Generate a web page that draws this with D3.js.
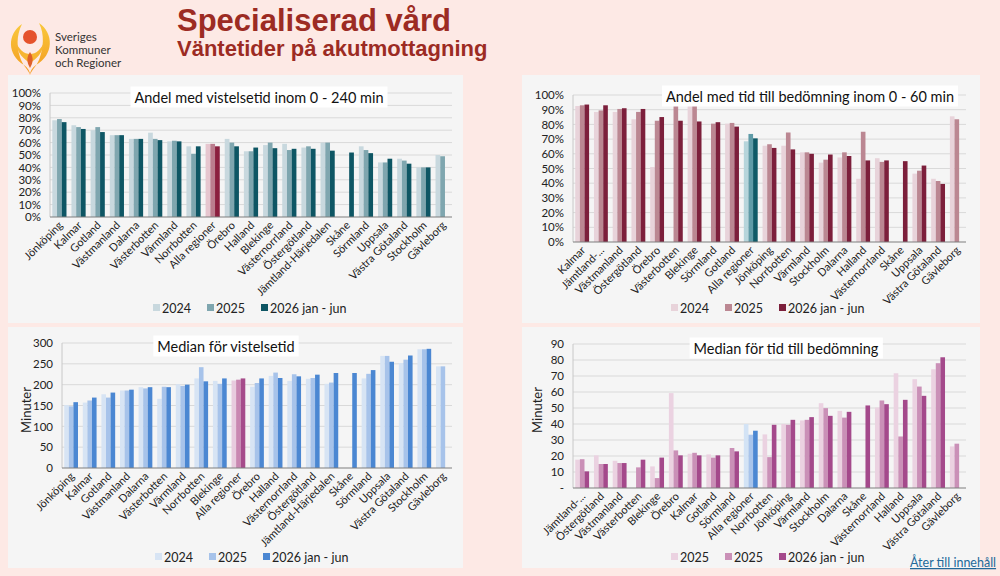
<!DOCTYPE html>
<html>
<head>
<meta charset="utf-8">
<script src="https://cdn.jsdelivr.net/npm/d3@7"></script>
<style>
  body { margin: 0; background: #fde9e5; }
  svg { display: block; font-family: Lato, "Open Sans", sans-serif; }
</style>
</head>
<body>
<script>
// ---- Andel med vistelsetid inom 0 - 240 min (procent) ----
const kat1 = ['Jönköping', 'Kalmar', 'Gotland', 'Västmanland', 'Dalarna', 'Västerbotten', 'Värmland', 'Norrbotten',
    'Alla regioner', 'Örebro', 'Halland', 'Blekinge', 'Västernorrland', 'Östergötland', 'Jämtland-Härjedalen',
    'Skåne', 'Sörmland', 'Uppsala', 'Västra Götaland', 'Stockholm', 'Gävleborg'];
const vist24 = [78, 74, 70, 66, 63, 68, 61, 57, 59, 63, 53, 58, 59, 56, 60, null, 57, 44, 47, 40, 50];
const vist25 = [79, 72.5, 72.5, 66, 63, 63, 61.5, 51, 59, 60, 53, 60, 54, 57, 60, null, 54, 44, 45.5, 40, 49];
const vist26 = [76.5, 71, 68.5, 66, 63, 62, 61, 57, 57, 57, 56, 55.5, 55, 55, 53.5, 52, 51.5, 47, 43, 40, null];

// ---- Andel med tid till bedömning inom 0 - 60 min (procent) ----
const kat2 = ['Kalmar', 'Jämtland-...', 'Västmanland', 'Östergötland', 'Örebro', 'Västerbotten', 'Blekinge', 'Sörmland',
    'Gotland', 'Alla regioner', 'Jönköping', 'Norrbotten', 'Värmland', 'Stockholm', 'Dalarna', 'Halland',
    'Västernorrland', 'Skåne', 'Uppsala', 'Västra Götaland', 'Gävleborg'];
const bed24 = [92.5, 88.5, 88.5, 83.5, 51, null, 93, null, 80.5, 68.5, 65.5, 65.5, 61, 54, 57.5, 43, 57, null, 46.5, 43, 85.5];
const bed25 = [93, 89.5, 90.5, 88.5, 82.5, 92.5, 93, 80.5, 81, 73.5, 66.5, 74.5, 61, 56, 61, 75, 54.5, null, 48.5, 41.5, 83.5];
const bed26 = [93.5, 93, 91, 90.5, 85, 82.5, 82, 81.5, 78.5, 70.5, 64, 63, 60, 59.5, 58.5, 55.5, 55.5, 55, 52, 39.5, null];

// ---- Median för vistelsetid (minuter) ----
const kat3 = ['Jönköping', 'Kalmar', 'Gotland', 'Västmanland', 'Dalarna', 'Västerbotten', 'Värmland', 'Norrbotten',
    'Blekinge', 'Alla regioner', 'Örebro', 'Halland', 'Västernorrland', 'Östergötland', 'Jämtland-Härjedalen',
    'Skåne', 'Sörmland', 'Uppsala', 'Västra Götaland', 'Stockholm', 'Gävleborg'];
const med24 = [151, 157, 177, 186, 194, 166, 201, 215, 209, 210, 195, 221, 209, 214, 202, null, 215, 269, 252, 285, 244];
const med25 = [148, 162, 169, 186, 191, 195, 197, 242, 202, 212, 204, 229, 225, 216, 205, null, 226, 269, 260, 285, 244];
const med26 = [158, 169, 181, 188, 194, 194, 200, 208, 215, 215, 215, 216, 220, 224, 228, 228, 235, 255, 270, 286, null];

// ---- Median för tid till bedömning (minuter) ----
const kat4 = ['Jämtland-...', 'Östergötland', 'Västmanland', 'Västerbotten', 'Blekinge', 'Örebro', 'Kalmar', 'Gotland',
    'Sörmland', 'Alla regioner', 'Norrbotten', 'Jönköping', 'Värmland', 'Stockholm', 'Dalarna', 'Skåne',
    'Västernorrland', 'Halland', 'Uppsala', 'Västra Götaland', 'Gävleborg'];
const mbed24 = [17.7, 20.4, 17, null, 13.5, 59.3, 21.4, 21, null, 40, 33.5, 40, 42.2, 53, 48.2, null, 50.3, 71.7, 68, 74.2, 26];
const mbed25 = [18, 15, 15.6, 12.9, 6.2, 23.5, 22, 19, 25, 33.3, 19.3, 39.5, 42.6, 49.9, 44, null, 54.7, 32.2, 63.4, 78, 27.7];
const mbed26 = [10.4, 15, 15.6, 17.7, 19, 20.4, 20.4, 20.4, 22.9, 35.8, 39.5, 42.6, 44.3, 45.1, 47.6, 51.6, 52.4, 55.1, 57.6, 81.7, null];

// ---- axlar och förklaringar ----
const pctTicks = [0, 10, 20, 30, 40, 50, 60, 70, 80, 90, 100];
const minTicks = [0, 50, 100, 150, 200, 250, 300];
const bedTicks = [0, 10, 20, 30, 40, 50, 60, 70, 80, 90];
const legendA = ['2024', '2025', '2026 jan - jun'];
const legendB = ['2025', '2025', '2026 jan - jun'];

const W = 1000;
const H = 576;

const svg = d3.select('body')
    .append('svg')
    .attr('width', W)
    .attr('height', H);

svg.append('rect')
    .attr('width', W)
    .attr('height', H)
    .attr('fill', '#fde9e5');

// ---- logga ----
const logo = svg.append('g');
const grad = svg.append('defs').append('linearGradient')
    .attr('id', 'flamma').attr('x1', 0).attr('y1', 0).attr('x2', 0).attr('y2', 1);
grad.append('stop').attr('offset', '0%').attr('stop-color', '#f9c83c');
grad.append('stop').attr('offset', '100%').attr('stop-color', '#f39a20');
logo.append('path')
    .attr('d', 'M22,24 C7,34 7,55 24,65 C28,68 30,71 30,75 C28,69 22,65 20,57 C17,48 16,36 22,24Z')
    .attr('fill', 'url(#flamma)');
logo.append('path')
    .attr('d', 'M39,23 C54,33 54,55 36,65 C32,68 30,71 30,75 C32,69 38,65 40,57 C43,48 45,35 39,23Z')
    .attr('fill', 'url(#flamma)');
logo.append('path')
    .attr('d', 'M15,40 C17,54 25,60 30,63 C35,60 43,54 45,40 C41,50 36,54 30,54 C24,54 19,50 15,40Z')
    .attr('fill', '#f7b532');
logo.append('circle').attr('cx', 30).attr('cy', 37).attr('r', 7).attr('fill', '#e5522c');
logo.append('path')
    .attr('d', 'M30,52 C33.5,57 33.5,62 30,68 C26.5,62 26.5,57 30,52Z')
    .attr('fill', '#e0602a');

['Sveriges', 'Kommuner', 'och Regioner'].forEach((t, i) => {
    svg.append('text')
        .attr('x', 55)
        .attr('y', 41 + i * 13)
        .attr('font-size', 11.5)
        .attr('fill', '#333')
        .text(t);
});

svg.append('text')
    .attr('x', 177)
    .attr('y', 31)
    .attr('font-family', '"Liberation Sans", Arial, sans-serif')
    .attr('font-weight', 'bold')
    .attr('font-size', 31)
    .attr('fill', '#9c2b23')
    .text('Specialiserad vård');

svg.append('text')
    .attr('x', 177)
    .attr('y', 56)
    .attr('font-family', '"Liberation Sans", Arial, sans-serif')
    .attr('font-weight', 'bold')
    .attr('font-size', 22)
    .attr('fill', '#9c2b23')
    .text('Väntetider på akutmottagning');

// ---- paneler ----
const panels = [
    {
        box: [8, 75, 455, 248], plot: {l: 50, t: 93, r: 452, b: 217},
        cats: kat1, series: [vist24, vist25, vist26], legend: legendA,
        colors: ['#c8d8de', '#7fa6af', '#0e5664'], hiColors: ['#e6c6cf', '#bb7d8e', '#8b1f3f'],
        max: 100, ticks: pctTicks, fmt: d => d + '%',
        title: 'Andel med vistelsetid inom 0 - 240 min', titleX: 259, titleY: 97,
        legendX: 153, legendY: 308, yLabel: null
    },
    {
        box: [522, 75, 458, 248], plot: {l: 573, t: 95, r: 966, b: 242},
        cats: kat2, series: [bed24, bed25, bed26], legend: legendA,
        colors: ['#e8d3da', '#bb8792', '#7c1f3b'], hiColors: ['#b6d5db', '#5f9ba7', '#0f5a67'],
        max: 100, ticks: pctTicks, fmt: d => d + '%',
        title: 'Andel med tid till bedömning inom 0 - 60 min', titleX: 810, titleY: 96,
        legendX: 671, legendY: 308, yLabel: null
    },
    {
        box: [8, 327, 455, 241], plot: {l: 62, t: 343, r: 452, b: 468},
        cats: kat3, series: [med24, med25, med26], legend: legendA,
        colors: ['#d7e4f4', '#a7c3ea', '#4b87d2'], hiColors: ['#e8cbde', '#c987b1', '#a64b8a'],
        max: 300, ticks: minTicks, fmt: d => d,
        title: 'Median för vistelsetid', titleX: 226, titleY: 346,
        legendX: 155, legendY: 557, yLabel: {x: 26, y: 410}
    },
    {
        box: [522, 327, 458, 241], plot: {l: 573, t: 344, r: 966, b: 488},
        cats: kat4, series: [mbed24, mbed25, mbed26], legend: legendB,
        colors: ['#ebd2e1', '#ca90b7', '#a4498b'], hiColors: ['#d3e3f5', '#a8c4eb', '#4b87d2'],
        max: 90, ticks: bedTicks, fmt: d => d === 0 ? '-' : d,
        title: 'Median för tid till bedömning', titleX: 786, titleY: 348,
        legendX: 671, legendY: 557, yLabel: {x: 537, y: 410}
    }
];

panels.forEach(p => {
    const g = svg.append('g');
    const pl = p.plot;

    g.append('rect')
        .attr('x', p.box[0]).attr('y', p.box[1])
        .attr('width', p.box[2]).attr('height', p.box[3])
        .attr('fill', '#f5f5f5');

    const x0 = d3.scaleBand()
        .domain(p.cats)
        .range([pl.l, pl.r])
        .paddingInner(0.26)
        .paddingOuter(0.12);

    const x1 = d3.scaleBand()
        .domain([0, 1, 2])
        .range([0, x0.bandwidth()]);

    const y = d3.scaleLinear()
        .domain([0, p.max])
        .range([pl.b, pl.t]);

    // stödlinjer
    g.selectAll('.grid')
        .data(p.ticks.slice(1))
        .enter()
        .append('line')
        .attr('x1', pl.l).attr('x2', pl.r)
        .attr('y1', d => y(d)).attr('y2', d => y(d))
        .attr('stroke', '#d9d9d9')
        .attr('stroke-width', 1);

    g.append('line')
        .attr('x1', pl.l).attr('x2', pl.l)
        .attr('y1', pl.t).attr('y2', pl.b)
        .attr('stroke', '#c8c8c8');

    const yAxis = d3.axisLeft(y)
        .tickValues(p.ticks)
        .tickSize(0)
        .tickPadding(9)
        .tickFormat(p.fmt);

    const ya = g.append('g')
        .attr('transform', 'translate(' + pl.l + ',0)')
        .call(yAxis);
    ya.select('.domain').remove();
    ya.selectAll('text')
        .attr('font-size', 11.5)
        .attr('font-family', 'Lato, sans-serif')
        .attr('fill', '#222');

    // staplar
    p.cats.forEach((c, i) => {
        const cols = c === 'Alla regioner' ? p.hiColors : p.colors;
        p.series.forEach((s, k) => {
            const v = s[i];
            if (v === null) {
                return;
            }
            g.append('rect')
                .attr('x', x0(c) + x1(k))
                .attr('y', y(v))
                .attr('width', x1.bandwidth())
                .attr('height', pl.b - y(v))
                .attr('fill', cols[k]);
        });
    });

    g.append('line')
        .attr('x1', pl.l).attr('x2', pl.r)
        .attr('y1', pl.b).attr('y2', pl.b)
        .attr('stroke', '#7f7f7f')
        .attr('stroke-width', 1.2);

    // kategorietiketter
    g.selectAll('.cat')
        .data(p.cats)
        .enter()
        .append('text')
        .attr('text-anchor', 'end')
        .attr('font-size', 11)
        .attr('fill', '#222')
        .attr('transform', d => 'translate(' + (x0(d) + x0.bandwidth() / 2 + 4) + ',' + (pl.b + 9) + ') rotate(-45)')
        .text(d => d);

    // titel med vit bakgrund
    const tg = g.append('g');
    const tr = tg.append('rect').attr('fill', '#ffffff');
    const tt = tg.append('text')
        .attr('x', p.titleX)
        .attr('y', p.titleY)
        .attr('text-anchor', 'middle')
        .attr('dominant-baseline', 'central')
        .attr('font-size', 14.5)
        .attr('fill', '#111')
        .text(p.title);
    const bb = tt.node().getBBox();
    tr.attr('x', bb.x - 4).attr('y', bb.y - 2)
        .attr('width', bb.width + 8).attr('height', bb.height + 4);

    // förklaring
    let lx = p.legendX;
    p.legend.forEach((name, k) => {
        g.append('rect')
            .attr('x', lx).attr('y', p.legendY - 4)
            .attr('width', 7).attr('height', 7)
            .attr('fill', p.colors[k]);
        const t = g.append('text')
            .attr('x', lx + 9)
            .attr('y', p.legendY)
            .attr('dominant-baseline', 'central')
            .attr('font-size', 12.5)
            .attr('fill', '#222')
            .text(name);
        lx += 9 + t.node().getComputedTextLength() + 16;
    });

    if (p.yLabel) {
        g.append('text')
            .attr('transform', 'translate(' + p.yLabel.x + ',' + p.yLabel.y + ') rotate(-90)')
            .attr('text-anchor', 'middle')
            .attr('dominant-baseline', 'central')
            .attr('font-size', 13)
            .attr('fill', '#222')
            .text('Minuter');
    }
});

svg.append('text')
    .attr('x', 910)
    .attr('y', 567)
    .attr('font-size', 12.5)
    .attr('fill', '#22699a')
    .attr('text-decoration', 'underline')
    .text('Åter till innehåll');
</script>
</body>
</html>
